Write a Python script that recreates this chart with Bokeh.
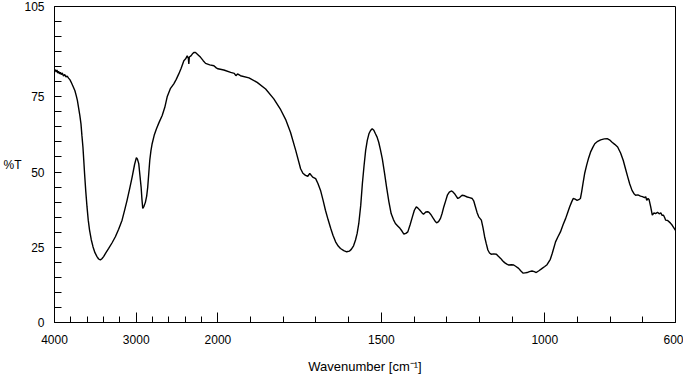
import numpy as np
from bokeh.plotting import figure
from bokeh.models import FixedTicker, Range1d, ColumnDataSource
from bokeh.embed import file_html
from bokeh.resources import INLINE

# ---------------- data ----------------
wavenumber = [
    4000, 3990, 3980, 3970, 3960, 3950, 3940, 3930, 3918, 3905, 3890, 3875, 3860, 3845, 3828,
    3810, 3790, 3767, 3750, 3734, 3720, 3706, 3690, 3676, 3664, 3652, 3642, 3632, 3617, 3602,
    3587, 3571, 3550, 3529, 3505, 3480, 3460, 3439, 3420, 3399, 3370, 3337, 3295, 3255, 3215,
    3173, 3140, 3112, 3080, 3050, 3020, 2998, 2985, 2969, 2955, 2940, 2930, 2920, 2905, 2887,
    2872, 2859, 2845, 2834, 2820, 2805, 2780, 2752, 2720, 2682, 2650, 2621, 2580, 2540, 2510,
    2479, 2450, 2417, 2395, 2376, 2362, 2356, 2350, 2330, 2314, 2295, 2274, 2245, 2212, 2180,
    2151, 2100, 2049, 2020, 2000, 1982, 1961, 1950, 1945, 1940, 1931, 1905, 1880, 1854, 1829,
    1808, 1793, 1778, 1762, 1747, 1740, 1732, 1725, 1719, 1710, 1701, 1694, 1686, 1678, 1671,
    1663, 1655, 1648, 1640, 1632, 1625, 1615, 1606, 1598, 1592, 1585, 1579, 1574, 1569, 1563,
    1558, 1553, 1548, 1543, 1538, 1533, 1528, 1523, 1518, 1513, 1508, 1503, 1497, 1490, 1484,
    1477, 1470, 1463, 1457, 1450, 1443, 1437, 1431, 1425, 1419, 1412, 1405, 1399, 1393, 1388,
    1382, 1376, 1371, 1364, 1358, 1354, 1348, 1343, 1337, 1331, 1325, 1319, 1314, 1309, 1303,
    1298, 1292, 1286, 1281, 1276, 1271, 1266, 1260, 1253, 1245, 1237, 1230, 1222, 1217, 1212,
    1207, 1202, 1194, 1189, 1184, 1179, 1174, 1169, 1164, 1156, 1148, 1142, 1135, 1129, 1123,
    1116, 1110, 1102, 1095, 1088, 1080, 1073, 1066, 1060, 1054, 1047, 1039, 1032, 1026, 1018,
    1008, 1000, 993, 983, 977, 967, 960, 952, 944, 936, 930, 924, 918, 913, 907,
    901, 896, 891, 887, 883, 878, 872, 866, 860, 853, 847, 838, 829, 818, 809,
    802, 794, 786, 777, 768, 760, 753, 746, 740, 733, 727, 722, 715, 707, 701,
    695, 691, 688, 684, 681, 676, 671, 666, 661, 655, 650, 645, 641, 637, 633,
    630, 624, 616, 610, 604, 600,
]
transmittance = [
    83.6, 84.0, 83.2, 83.9, 82.9, 83.5, 82.6, 83.1, 82.4, 82.9, 81.9, 82.4, 81.6, 81.9, 81.2,
    80.6, 79.5, 78.1, 77.0, 75.4, 73.8, 71.5, 68.8, 66.0, 62.0, 58.3, 54.0, 49.5, 43.5, 38.4,
    34.0, 30.7, 27.5, 25.2, 23.2, 21.9, 21.1, 20.8, 21.2, 21.9, 23.2, 24.6, 26.5, 28.5, 31.0,
    34.0, 37.5, 40.6, 44.5, 48.3, 52.5, 54.8, 54.3, 52.8, 49.0, 45.0, 41.0, 37.9, 38.6, 40.0,
    42.0, 45.0, 50.0, 53.9, 57.0, 59.4, 62.2, 64.4, 66.5, 68.8, 71.5, 75.0, 77.8, 79.3, 80.8,
    82.6, 84.5, 87.0, 87.6, 88.6, 87.8, 85.9, 88.2, 88.6, 89.2, 89.7, 89.7, 89.0, 88.1, 87.0,
    86.1, 85.6, 85.3, 84.6, 84.3, 83.9, 83.1, 82.8, 82.0, 82.6, 82.0, 81.3, 79.8, 77.6, 74.3,
    70.7, 67.5, 63.2, 57.2, 51.1, 49.6, 48.9, 48.6, 49.5, 48.3, 47.8, 46.2, 43.9, 40.5, 37.3,
    34.2, 31.3, 29.0, 26.8, 25.4, 24.6, 23.9, 23.5, 23.7, 24.3, 25.5, 27.4, 29.6, 32.9, 39.0,
    46.2, 52.0, 57.2, 60.5, 62.7, 63.8, 64.4, 63.9, 62.7, 61.6, 59.9, 57.5, 54.4, 49.5, 45.0,
    40.2, 36.2, 34.2, 32.9, 32.1, 31.3, 30.4, 29.4, 29.6, 30.1, 32.5, 35.1, 37.3, 38.4, 38.0,
    37.3, 36.5, 36.0, 36.7, 36.8, 36.6, 35.8, 34.9, 33.9, 33.1, 33.5, 34.6, 36.3, 38.4, 40.5,
    42.3, 43.3, 43.7, 43.4, 42.8, 42.0, 41.2, 41.6, 42.3, 42.1, 41.7, 41.5, 41.2, 40.3, 38.4,
    36.5, 35.1, 34.0, 31.5, 28.5, 26.2, 24.1, 23.1, 22.7, 22.8, 22.7, 22.0, 21.3, 20.5, 19.9,
    19.4, 19.1, 19.2, 19.1, 18.6, 18.0, 17.1, 16.4, 16.5, 16.6, 16.9, 17.1, 16.9, 16.6, 17.2,
    18.0, 18.6, 19.2, 21.0, 23.0, 26.8, 28.4, 30.1, 32.5, 34.6, 36.5, 38.4, 40.0, 41.2, 41.0,
    40.6, 40.8, 41.2, 43.5, 46.2, 49.5, 52.2, 54.6, 56.6, 58.2, 59.4, 60.2, 60.7, 61.0, 61.1,
    60.7, 59.9, 59.2, 58.3, 56.3, 53.9, 51.1, 48.3, 46.0, 43.9, 42.8, 42.3, 42.4, 42.0, 41.8,
    41.5, 41.8, 40.6, 41.2, 40.9, 38.5, 35.7, 36.4, 36.2, 36.6, 36.1, 36.4, 35.6, 35.7, 34.8,
    34.0, 33.9, 33.1, 32.3, 31.3, 30.6,
]

x_major_ticks = [4000, 3000, 2000, 1500, 1000, 600]
x_minor_ticks = [3800, 3600, 3400, 3200, 2800, 2600, 2400, 2200,
                 1900, 1800, 1700, 1600, 1400, 1300, 1200, 1100, 900, 800, 700]
y_major_ticks = [0, 25, 50, 75, 105]
y_minor_ticks = [5, 10, 15, 20, 30, 35, 40, 45, 55, 60, 65, 70, 80, 85, 90, 95, 100]

# Split wavenumber scale: region below 2000 cm-1 is expanded 4x (standard IR layout)
X_START, X_BREAK, X_END, EXPAND = 4000, 2000, 600, 4


def axis_pos(wn):
    wn = np.asarray(wn, dtype=float)
    return np.where(wn >= X_BREAK, X_START - wn,
                    (X_START - X_BREAK) + EXPAND * (X_BREAK - wn))


FONT = "Liberation Sans"

p = figure(width=683, height=376, output_backend="svg", toolbar_location=None,
           x_range=Range1d(float(axis_pos(X_START)), float(axis_pos(X_END))),
           y_range=Range1d(0, 105),
           min_border_left=54, min_border_right=8, min_border_top=6, min_border_bottom=53)

src = ColumnDataSource(dict(x=axis_pos(wavenumber), y=transmittance, wn=wavenumber))
p.line("x", "y", source=src, line_color="black", line_width=1.4)

p.xgrid.visible = False
p.ygrid.visible = False
p.outline_line_color = "black"
p.outline_line_width = 1
p.background_fill_color = "white"
p.border_fill_color = "white"

# x axis
xa = p.xaxis[0]
xa.ticker = FixedTicker(ticks=[float(v) for v in axis_pos(x_major_ticks)],
                        minor_ticks=[float(v) for v in axis_pos(x_minor_ticks)])
xa.major_label_overrides = {float(axis_pos(t)): str(t) for t in x_major_ticks}
xa.major_tick_in = 10
xa.major_tick_out = 0
xa.minor_tick_in = 6
xa.minor_tick_out = 0
xa.axis_line_color = "black"
xa.major_tick_line_color = "black"
xa.minor_tick_line_color = "black"
xa.major_label_text_font = FONT
xa.major_label_text_font_size = "12px"
xa.major_label_text_color = "black"
xa.major_label_standoff = 12
xa.axis_label = "Wavenumber [cm⁻¹]"
xa.axis_label_text_font = FONT
xa.axis_label_text_font_size = "13px"
xa.axis_label_text_font_style = "normal"
xa.axis_label_text_color = "black"
xa.axis_label_standoff = 12

# y axis
ya = p.yaxis[0]
ya.ticker = FixedTicker(ticks=y_major_ticks, minor_ticks=y_minor_ticks)
ya.major_tick_in = 7
ya.major_tick_out = 0
ya.minor_tick_in = 7
ya.minor_tick_out = 0
ya.axis_line_color = "black"
ya.major_tick_line_color = "black"
ya.minor_tick_line_color = "black"
ya.major_label_text_font = FONT
ya.major_label_text_font_size = "12px"
ya.major_label_text_color = "black"
ya.major_label_standoff = 10
ya.axis_label = "%T"
ya.axis_label_orientation = "horizontal"
ya.axis_label_text_font = FONT
ya.axis_label_text_font_size = "12px"
ya.axis_label_text_font_style = "normal"
ya.axis_label_text_color = "black"
ya.axis_label_standoff = 0

open("out.html", "w").write(file_html(p, INLINE))
